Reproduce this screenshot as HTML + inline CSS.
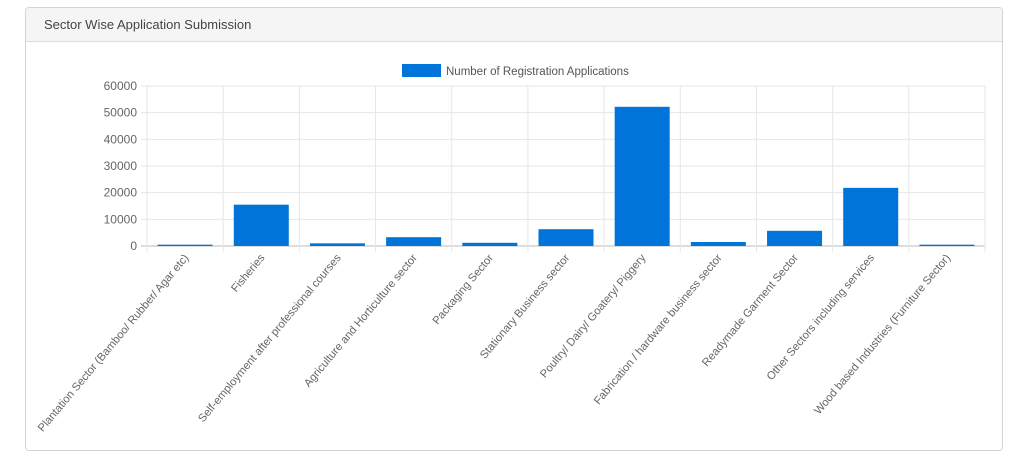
<!DOCTYPE html>
<html><head><meta charset="utf-8"><style>
body{margin:0;width:1024px;height:471px;background:#fff;font-family:"Liberation Sans",sans-serif;overflow:hidden}
.card{position:absolute;left:25px;top:7px;width:976px;height:442px;border:1px solid #d4d4d4;border-radius:4px;background:#fff}
.hdr{height:33px;background:#f5f5f5;border-bottom:1px solid #ddd;border-radius:4px 4px 0 0;font-size:13px;color:#444;line-height:33px;padding-left:18px}
svg{position:absolute;left:0;top:0}
</style></head><body>
<div class="card"><div class="hdr">Sector Wise Application Submission</div></div>
<svg id="c" width="1024" height="471"></svg>
<script>
const categories=["Plantation Sector (Bamboo/ Rubber/ Agar etc)","Fisheries","Self-employment after professional courses","Agriculture and Horticulture sector","Packaging Sector","Stationary Business sector","Poultry/ Dairy/ Goatery/ Piggery","Fabrication / hardware business sector","Readymade Garment Sector","Other Sectors including services","Wood based Industries (Furniture Sector)"];
const values=[500,15500,1000,3300,1200,6300,52200,1500,5700,21800,500];
const ticks=[0,10000,20000,30000,40000,50000,60000];
const NS="http://www.w3.org/2000/svg",svg=document.getElementById('c');
const x0=147,x1=985,y0=246,y1=86,ymax=60000;
const cw=(x1-x0)/categories.length;
const Y=v=>y0-(v/ymax)*(y0-y1);
function mk(t,a){const e=document.createElementNS(NS,t);for(const k in a)e.setAttribute(k,a[k]);svg.appendChild(e);return e;}
ticks.forEach(t=>{
 const l=mk('line',{x1:x0-6,x2:x1,y1:Y(t),y2:Y(t),stroke:t===0?'#bbb':'#e6e6e6'});
 
 
 const tx=mk('text',{x:x0-10,y:Y(t)+4,'text-anchor':'end','font-size':12,fill:'#666'});
 tx.textContent=t;
 
 
});
for(let i=0;i<=categories.length;i++){
 const l=mk('line',{x1:x0+i*cw,x2:x0+i*cw,y1:y1,y2:y0+6,stroke:'#e6e6e6'});
 
 
}
categories.forEach((c,i)=>{
 const cx=x0+cw*(i+0.5),bw=55;
 const r=mk('rect',{x:cx-bw/2,y:Y(values[i]),width:bw,height:y0-Y(values[i]),fill:'#0074d9'});
 
 
 const t=mk('text',{x:cx+4,y:258,'text-anchor':'end','font-size':11.2,fill:'#666',transform:`rotate(-50 ${cx+4} 258)`});
 t.textContent=c;
 
 
});
const lb=mk('rect',{x:402,y:64,width:39,height:13,fill:'#0074d9'});


const lt=mk('text',{x:446,y:75,'font-size':11.5,fill:'#555'});
lt.textContent='Number of Registration Applications';


</script>
</body></html>
